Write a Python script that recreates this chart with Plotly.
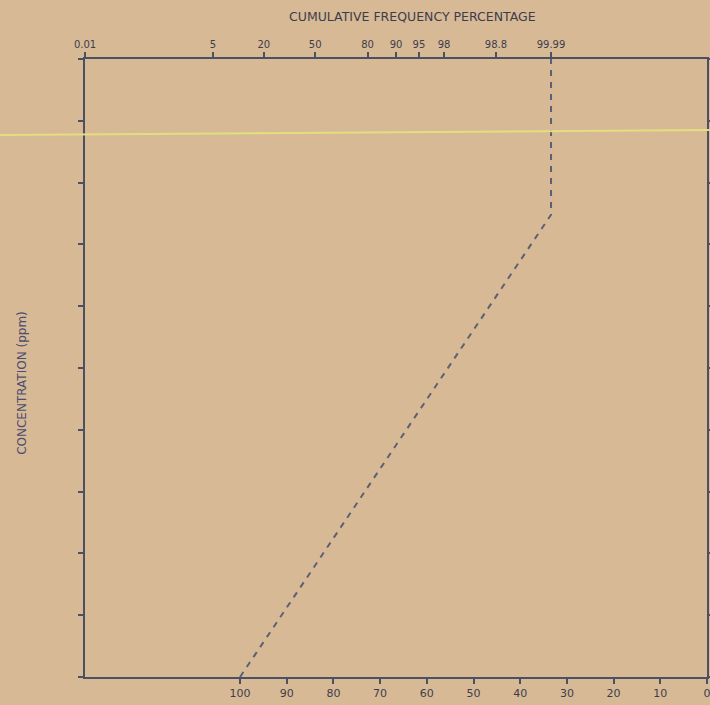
import plotly.graph_objects as go

# Bottom axis (percentage, reversed)
bottom_ticks = [100, 90, 80, 70, 60, 50, 40, 30, 20, 10, 0]
bottom_labels = ["100", "90", "80", "70", "60", "50", "40", "30", "20", "10", "0"]

# Top axis: cumulative frequency percentage labels and where they sit on the bottom scale
top_labels = ["0.01", "5", "20", "50", "80", "90", "95", "98", "98.8", "99.99"]
top_positions = [133.19, 105.8, 94.9, 83.9, 72.7, 66.6, 61.7, 56.3, 45.2, 33.4]

# Concentration axis (unlabelled ticks)
conc_ticks = [0, 1, 2, 3, 4, 5, 6, 7, 8, 9, 10]

# Dashed curve
curve_x = [100, 33.4, 33.4]
curve_y = [0, 7.48, 10]

bg = "#d8b995"
ink = "#4b5063"
txt = "#3c3d4c"

fig = go.Figure()
fig.add_trace(go.Scatter(
    x=curve_x, y=curve_y, mode="lines",
    line=dict(color="#5b6072", width=2, dash="6px,6px"),
    showlegend=False, hoverinfo="skip", cliponaxis=False,
))
# invisible trace to activate top axis
fig.add_trace(go.Scatter(x=[top_positions[0]], y=[0], xaxis="x2", mode="markers",
                         marker=dict(opacity=0), showlegend=False, hoverinfo="skip"))

fig.update_layout(
    width=710, height=705,
    margin=dict(l=85, r=3, t=59, b=28),
    paper_bgcolor=bg, plot_bgcolor=bg,
    font=dict(family="DejaVu Sans", color=txt, size=10),
    xaxis=dict(
        range=[133.2, 0], tickvals=bottom_ticks, ticktext=bottom_labels,
        showgrid=False, zeroline=False, showline=True, linecolor=ink, linewidth=2,
        ticks="outside", ticklen=5, tickcolor=ink, tickwidth=1.5, automargin=False,
        ticklabeloverflow="allow",
        tickfont=dict(size=11, color=txt),
    ),
    xaxis2=dict(
        overlaying="x", side="top", range=[133.2, 0],
        tickvals=top_positions, ticktext=top_labels,
        showgrid=False, zeroline=False, showline=True, linecolor=ink, linewidth=2,
        ticks="outside", ticklen=5, tickcolor=ink, tickwidth=1.5, automargin=False,
        ticklabeloverflow="allow",
        tickfont=dict(size=10, color=txt),
    ),
    yaxis=dict(
        range=[0, 10], tickvals=conc_ticks, showticklabels=False,
        showgrid=False, zeroline=False, showline=True, linecolor=ink, linewidth=2,
        mirror="ticks", ticks="outside", ticklen=5, tickcolor=ink, tickwidth=1.5,
        automargin=False,
    ),
    annotations=[
        dict(text="CUMULATIVE FREQUENCY PERCENTAGE", xref="paper", yref="paper",
             x=0.527, y=1.068, xanchor="center", yanchor="middle", showarrow=False,
             font=dict(size=12.5, color=txt, family="DejaVu Sans")),
        dict(text="CONCENTRATION (ppm)", xref="paper", yref="paper",
             x=-0.1013, y=0.476, xanchor="center", yanchor="middle",
             textangle=-90, showarrow=False,
             font=dict(size=12, color="#4a4f70", family="DejaVu Sans")),
    ],
    shapes=[
        dict(type="line", xref="paper", yref="paper",
             x0=-0.14, x1=1.01, y0=0.877, y1=0.885,
             line=dict(color="#e3df80", width=2)),
    ],
)

fig.write_html(
    "out.html",
    config={"displayModeBar": False},
    post_script=(
        "document.body.style.margin='0';"
        "document.body.style.overflow='hidden';"
        "document.documentElement.style.overflow='hidden';"
        "document.body.style.background='#d8b995';"
    ),
)
